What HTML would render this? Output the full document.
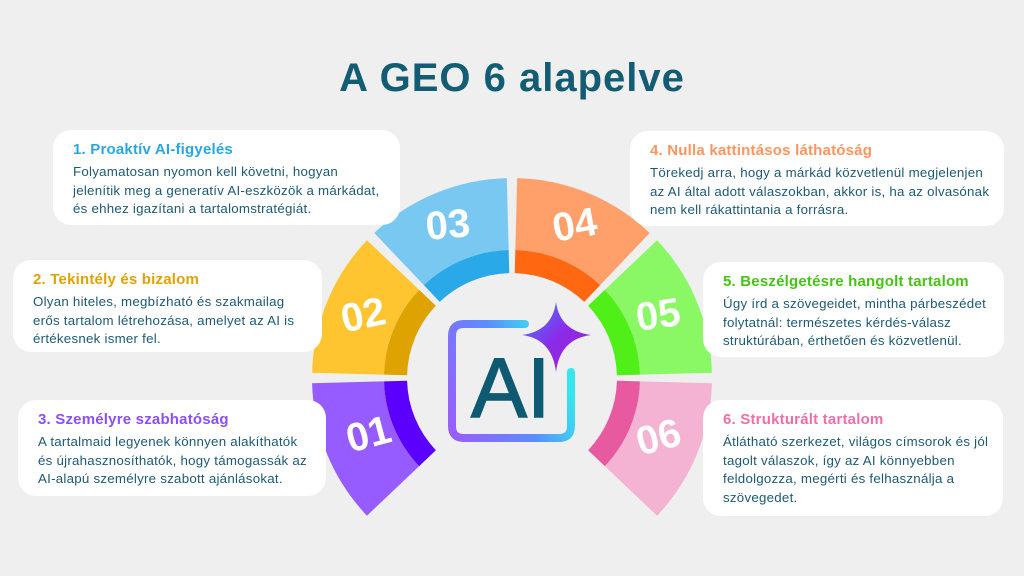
<!DOCTYPE html>
<html><head><meta charset="utf-8"><style>
html,body{margin:0;padding:0}
body{width:1024px;height:576px;background:#efefef;position:relative;overflow:hidden;font-family:"Liberation Sans",sans-serif}
h1{position:absolute;left:0;width:1024px;top:56px;margin:0;text-align:center;font-size:40px;letter-spacing:1px;font-weight:bold;color:#135d74}
.card{position:absolute;background:#fff;border-radius:18px;box-sizing:border-box;padding:10px 10px 0 20px;white-space:nowrap}
.card b{display:block;font-size:15px;line-height:20px;margin-bottom:3px;letter-spacing:0.2px}
.card p{margin:0;font-size:13.3px;line-height:18.5px;color:#1d5a72;letter-spacing:0.25px}
svg{position:absolute;left:0;top:0}
</style></head><body>
<h1>A GEO 6 alapelve</h1>
<svg width="1024" height="576" viewBox="0 0 1024 576">
<defs>
<path id="lt" d="M186.7,-71.7 A200,200 0 0 1 186.7,71.7 L119.5,45.9 A128,128 0 0 0 119.5,-45.9 Z"/>
<path id="dk" d="M119.5,-45.9 A128,128 0 0 1 119.5,45.9 L98,37.6 A105,105 0 0 0 98,-37.6 Z"/>
<linearGradient id="fr" x1="0" y1="1" x2="1" y2="0.6"><stop offset="0" stop-color="#9b5cff"/><stop offset="0.6" stop-color="#5b8cff"/><stop offset="1" stop-color="#35e6ee"/></linearGradient>
<linearGradient id="st" x1="0" y1="0" x2="1" y2="1"><stop offset="0" stop-color="#3b8cff"/><stop offset="0.5" stop-color="#8a2be8"/><stop offset="1" stop-color="#a020d8"/></linearGradient>
</defs>
<g transform="translate(512,378)">
<g transform="rotate(157.5)"><use href="#lt" fill="#965cff"/><use href="#dk" fill="#5b00ff"/></g>
<g transform="rotate(202.5)"><use href="#lt" fill="#ffc531"/><use href="#dk" fill="#dfa300"/></g>
<g transform="rotate(247.5)"><use href="#lt" fill="#79c8f2"/><use href="#dk" fill="#29a9e8"/></g>
<g transform="rotate(292.5)"><use href="#lt" fill="#ffa06a"/><use href="#dk" fill="#ff6711"/></g>
<g transform="rotate(337.5)"><use href="#lt" fill="#8af765"/><use href="#dk" fill="#50ef18"/></g>
<g transform="rotate(22.5)"><use href="#lt" fill="#f4b3d3"/><use href="#dk" fill="#e85a9f"/></g>
</g>
<g font-family="Liberation Sans,sans-serif" font-weight="bold" font-size="40" fill="#fff" text-anchor="middle">
<text transform="translate(372,447) rotate(-15)">01</text>
<text transform="translate(366,328) rotate(-12)">02</text>
<text transform="translate(449,238) rotate(-5)">03</text>
<text transform="translate(577,238) rotate(-10)">04</text>
<text transform="translate(660,328) rotate(-8)">05</text>
<text transform="translate(662,450) rotate(-15)">06</text>
</g>
<path d="M525,324 H464 Q452,324 452,336 V426 Q452,438 464,438 H559 Q571,438 571,426 V372" fill="none" stroke="url(#fr)" stroke-width="8" stroke-linecap="round"/>
<path d="M556,302 Q560,331 591,335 Q560,339 556,372 Q552,339 522,335 Q552,331 556,302 Z" fill="url(#st)"/>
<text x="471" y="417" font-family="Liberation Sans,sans-serif" font-size="84" fill="#0e5a72" stroke="#0e5a72" stroke-width="1.5">AI</text>
</svg>
<div class="card" style="left:53px;top:130px;width:347px;height:95px"><b style="color:#2aa6e8">1. Proaktív AI-figyelés</b><p>Folyamatosan nyomon kell követni, hogyan<br>jelenítik meg a generatív AI-eszközök a márkádat,<br>és ehhez igazítani a tartalomstratégiát.</p></div>
<div class="card" style="left:13px;top:260px;width:309px;height:92px"><b style="color:#dfa300">2. Tekintély és bizalom</b><p>Olyan hiteles, megbízható és szakmailag<br>erős tartalom létrehozása, amelyet az AI is<br>értékesnek ismer fel.</p></div>
<div class="card" style="left:18px;top:400px;width:308px;height:96px"><b style="color:#8a4ff8">3. Személyre szabhatóság</b><p>A tartalmaid legyenek könnyen alakíthatók<br>és újrahasznosíthatók, hogy támogassák az<br>AI-alapú személyre szabott ajánlásokat.</p></div>
<div class="card" style="left:630px;top:131px;width:374px;height:95px"><b style="color:#ff955e">4. Nulla kattintásos láthatóság</b><p>Törekedj arra, hogy a márkád közvetlenül megjelenjen<br>az AI által adott válaszokban, akkor is, ha az olvasónak<br>nem kell rákattintania a forrásra.</p></div>
<div class="card" style="left:703px;top:262px;width:301px;height:95px"><b style="color:#45c414">5. Beszélgetésre hangolt tartalom</b><p>Úgy írd a szövegeidet, mintha párbeszédet<br>folytatnál: természetes kérdés-válasz<br>struktúrában, érthetően és közvetlenül.</p></div>
<div class="card" style="left:703px;top:400px;width:300px;height:116px"><b style="color:#ee6fa8">6. Strukturált tartalom</b><p>Átlátható szerkezet, világos címsorok és jól<br>tagolt válaszok, így az AI könnyebben<br>feldolgozza, megérti és felhasználja a<br>szövegedet.</p></div>
</body></html>
